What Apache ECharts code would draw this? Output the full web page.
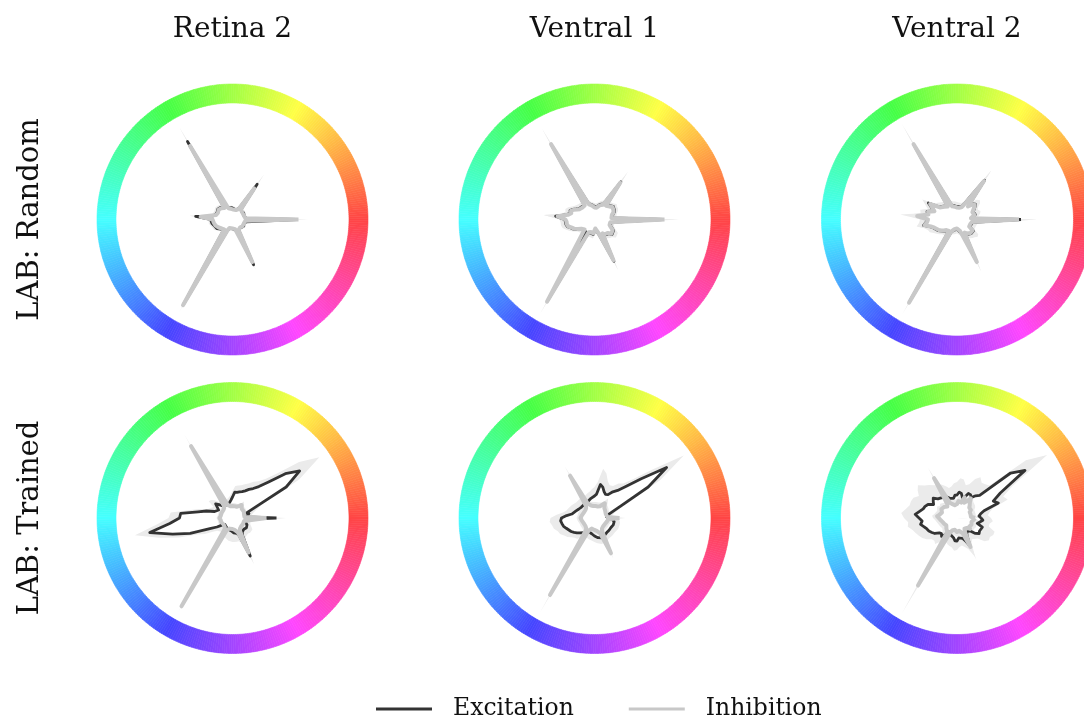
<!DOCTYPE html>
<html><head><meta charset="utf-8">
<script src="https://cdn.jsdelivr.net/npm/echarts@6/dist/echarts.min.js"></script>
<style>html,body{margin:0;padding:0;background:#fff}#c{width:1084px;height:719px}</style>
</head><body><div id="c"></div>
<script>
// angle grid (hue angle, degrees)
const angles = [0,5,10,15,20,25,30,35,40,45,50,55,60,65,70,75,80,85,90,95,100,105,110,115,
  120,125,130,135,140,145,150,155,160,165,170,175,180,185,190,195,200,205,210,215,220,225,230,235,
  240,245,250,255,260,265,270,275,280,285,290,295,300,305,310,315,320,325,330,335,340,345,350,355];
const columnTitles = ['Retina 2', 'Ventral 1', 'Ventral 2'];
const rowTitles = ['LAB: Random', 'LAB: Trained'];
const legendNames = ['Excitation', 'Inhibition'];

// ---- LAB: Random, Retina 2
const r2RandExc = [64,14,13,12,13,12,13,13,12,13,14,43, 13,11,10,11,10,11,11,12,11,12,12,14,
  90,15,16,17,17,18,18,17,16,18,20,37, 22,21,21,20,19,18,18,17,15,14,14,15,
  97,13,10,9,9,9,9,10,10,11,12,50, 13,12,11,12,12,12,13,13,12,13,14,14];
const r2RandExcSpread = [10,3,3,2,2,2,2,2,2,2,3,12, 3,2,2,2,2,2,2,2,2,2,2,3,
  17,3,3,3,3,3,3,3,3,3,3,6, 3,3,3,3,3,3,3,3,2,2,2,3,
  10,3,2,2,2,2,2,2,2,2,2,6, 2,2,2,2,2,2,2,2,2,2,2,2];
const r2RandInh = [66,13,12,12,12,12,12,12,12,12,13,38, 12,10,10,10,10,10,10,11,11,11,12,13,
  85,14,15,16,16,17,17,16,15,17,18,32, 20,19,19,19,18,17,16,16,14,13,13,14,
  99,12,9,9,8,8,9,9,10,10,11,47, 12,11,11,11,11,12,12,12,12,12,13,13];
const r2RandInhSpread = [10,3,2,2,2,2,2,2,2,2,3,17, 3,2,2,2,2,2,2,2,2,2,2,3,
  22,3,3,3,3,3,3,3,3,3,3,11, 3,3,3,3,3,3,3,3,2,2,2,3,
  9,3,2,2,2,2,2,2,2,2,2,8, 2,2,2,2,2,2,2,2,2,2,2,2];

// ---- LAB: Random, Ventral 1
const v1RandExc = [68,18,17,19,21,22,22,23,21,20,19,46, 18,19,16,14,13,13,13,14,15,16,17,18,
  85,18,17,18,18,19,21,24,26,25,28,39, 30,29,29,28,25,23,20,17,16,15,14,15,
  93,15,14,14,15,15,13,10,12,14,16,46, 17,19,20,20,23,23,22,19,17,16,17,18];
const v1RandExcSpread = [15,4,4,4,4,4,4,4,4,4,4,12, 4,4,4,4,3,3,3,3,3,3,4,4,
  19,4,4,4,4,5,5,5,5,5,5,12, 5,5,5,5,5,4,4,4,4,4,4,4,
  15,4,4,4,4,4,4,4,4,4,4,10, 4,4,4,5,5,5,5,4,4,4,4,4];
const v1RandInh = [70,17,16,18,20,21,21,22,20,19,18,45, 17,18,15,13,12,12,12,13,14,15,16,17,
  87,17,16,17,17,18,20,23,25,24,27,37, 29,28,28,27,24,22,19,16,15,14,13,14,
  95,14,13,13,14,14,12,9,11,13,15,45, 16,18,19,19,22,22,21,18,16,15,16,17];
const v1RandInhSpread = [15,4,4,4,4,4,4,4,4,4,4,13, 4,4,4,4,3,3,3,3,3,3,4,4,
  19,4,4,4,4,5,5,5,5,5,5,14, 5,5,5,5,5,4,4,4,4,4,4,4,
  15,4,4,4,4,4,4,4,4,4,4,11, 4,4,4,5,5,5,5,4,4,4,4,4];

// ---- LAB: Random, Ventral 2
const v2RandExc = [64,15,17,19,20,18,19,22,24,22,18,48, 26,17,14,13,13,13,13,14,14,15,15,16,
  84,17,18,19,20,22,33,28,25,31,30,37, 30,31,34,28,25,24,22,20,18,16,15,15,
  93,14,12,11,11,10,10,11,12,13,15,46, 16,18,19,20,21,20,15,14,15,16,16,15];
const v2RandExcSpread = [16,5,5,5,5,5,5,6,6,6,5,12, 6,5,5,4,4,4,4,4,4,4,5,5,
  24,5,5,5,6,6,7,7,6,7,7,14, 7,7,7,6,6,6,5,5,5,5,5,5,
  14,5,4,4,4,4,4,4,4,4,5,11, 5,5,5,5,6,6,5,5,5,5,5,5];
const v2RandInh = [62,14,16,18,19,17,18,21,23,21,17,47, 24,16,13,12,12,12,12,13,13,14,14,15,
  87,16,17,18,19,21,31,27,24,30,29,40, 29,30,33,27,24,23,21,19,17,15,14,14,
  96,13,11,10,10,9,9,10,11,12,14,47, 15,17,18,19,20,19,14,13,14,15,15,14];
const v2RandInhSpread = [18,5,5,5,5,5,5,6,6,6,5,13, 6,5,5,4,4,4,4,4,4,4,5,5,
  24,5,5,5,6,6,7,7,6,7,7,17, 7,7,7,6,6,6,5,5,5,5,5,5,
  14,5,4,4,4,4,4,4,4,4,5,11, 5,5,5,5,6,6,5,5,5,5,5,5];

// ---- LAB: Trained, Retina 2
const r2TrainExc = [44,14,15,17,15,24,62,82,69,51,41,36, 33,30,28,27,26,26,21,18,16,15,14,14,
  15,14,16,19,22,23,16,16,19,27,35,52, 53,63,84,62,45,25,18,12,10,10,10,11,
  12,12,12,12,13,13,14,15,16,16,18,42, 20,17,16,16,17,17,17,16,14,13,13,13];
const r2TrainExcSpread = [10,4,4,5,6,9,15,24,18,12,10,9, 9,8,8,7,7,6,6,5,5,5,5,5,
  5,5,5,6,6,6,6,6,7,8,9,10, 11,13,15,14,12,14,14,12,10,9,8,8,
  8,8,9,9,10,10,10,9,8,8,8,9, 7,6,6,6,6,6,6,5,5,5,5,5];
const r2TrainInh = [34,12,11,12,12,12,13,13,13,13,14,16, 14,13,12,12,12,12,12,12,12,13,14,16,
  83,15,13,12,12,12,12,12,12,12,12,13, 13,12,12,12,12,12,12,11,11,11,12,14,
  102,13,11,11,11,11,11,12,12,13,15,38, 15,13,12,12,12,12,12,12,12,12,12,13];
const r2TrainInhSpread = [8,3,3,3,3,3,3,3,3,3,3,4, 3,3,3,3,3,3,3,3,3,3,3,4,
  14,3,3,3,3,3,3,3,3,3,3,3, 3,3,3,3,3,3,3,3,3,3,3,4,
  8,3,3,3,3,3,3,3,3,3,4,9, 4,3,3,3,3,3,3,3,3,3,3,3];

// ---- LAB: Trained, Ventral 1
const v1TrainExc = [16,12,12,15,20,30,62,88,61,45,36,32, 27,26,28,32,34,24,22,21,20,19,18,17,
  17,17,17,17,17,18,18,19,20,21,23,28, 33,34,33,32,30,29,27,25,23,21,20,18,
  16,15,15,16,16,17,18,19,20,21,21,21, 20,19,19,19,19,19,19,20,20,20,20,19];
const v1TrainExcSpread = [6,5,5,6,7,9,14,21,14,10,9,10, 10,10,11,14,16,12,9,8,7,7,7,7,
  8,7,7,7,7,7,8,8,8,8,9,10, 11,11,10,10,9,9,8,8,7,7,7,6,
  6,6,6,6,6,6,6,6,6,6,6,7, 6,6,6,6,6,6,6,6,6,6,6,6];
const v1TrainInh = [25,13,12,12,12,12,12,13,13,14,15,18, 15,13,12,12,13,12,12,12,12,13,14,16,
  49,15,13,12,12,12,12,12,13,13,13,14, 14,13,13,12,12,12,12,12,12,12,13,15,
  89,14,12,11,11,11,12,12,13,14,16,39, 15,13,12,12,12,12,12,12,12,13,14,14];
const v1TrainInhSpread = [6,4,4,4,4,4,4,4,4,4,4,6, 4,4,4,4,4,4,4,4,4,4,4,4,
  11,4,4,4,4,4,4,4,4,4,4,4, 4,4,4,4,4,4,4,4,4,4,4,5,
  21,4,4,4,4,4,4,4,4,4,4,6, 4,4,4,4,4,4,4,4,4,4,4,4];

// ---- LAB: Trained, Ventral 2
const v2TrainExc = [24,22,24,28,44,40,50,83,70,32,29,25, 27,27,22,21,25,26,23,23,20,19,21,23,
  24,25,26,27,31,29,27,32,34,35,38,42, 38,35,37,34,32,31,29,27,23,22,24,20,
  16,17,18,19,20,23,23,20,19,21,24,31, 20,17,16,18,24,27,26,27,27,21,22,26];
const v2TrainExcSpread = [10,9,9,9,10,11,14,27,20,14,15,18, 20,16,14,13,14,14,13,12,12,12,13,14,
  14,15,17,19,20,19,17,16,15,14,14,14, 15,14,13,12,12,11,11,10,10,10,10,9,
  9,9,10,10,10,10,9,9,9,9,9,12, 9,9,10,11,12,12,12,13,13,12,11,10];
const v2TrainInh = [18,14,13,14,15,14,16,17,16,18,20,24, 19,17,22,16,15,17,14,13,13,14,15,17,
  46,17,15,16,17,16,18,17,16,17,18,20, 19,17,16,15,15,14,14,13,14,15,15,17,
  78,16,13,12,12,13,14,13,13,14,16,32, 16,13,12,14,17,15,14,16,17,15,16,17];
const v2TrainInhSpread = [5,5,5,5,5,5,5,5,5,5,5,6, 5,5,5,5,5,5,5,5,5,5,5,5,
  12,5,5,5,5,5,5,5,5,5,5,5, 5,5,5,5,5,5,5,5,5,5,5,6,
  32,5,5,5,5,5,5,5,5,5,5,14, 5,5,5,5,5,5,5,5,5,5,5,5];

const panels = [
  {exc: r2RandExc, excS: r2RandExcSpread, inh: r2RandInh, inhS: r2RandInhSpread},
  {exc: v1RandExc, excS: v1RandExcSpread, inh: v1RandInh, inhS: v1RandInhSpread},
  {exc: v2RandExc, excS: v2RandExcSpread, inh: v2RandInh, inhS: v2RandInhSpread},
  {exc: r2TrainExc, excS: r2TrainExcSpread, inh: r2TrainInh, inhS: r2TrainInhSpread},
  {exc: v1TrainExc, excS: v1TrainExcSpread, inh: v1TrainInh, inhS: v1TrainInhSpread},
  {exc: v2TrainExc, excS: v2TrainExcSpread, inh: v2TrainInh, inhS: v2TrainInhSpread}
];

// ---- layout / style
const colX = [232.5, 594.5, 957];
const rowY = [219.5, 518];
const innerR = 116.5, outerR = 135.5, RMAX = 116.5;
const EXC_COLOR = '#333333', INH_COLOR = '#c8c8c8', BAND_COLOR = '#ebebeb';
const FONT = 'DejaVu Serif';

function hsvHex(h, s, v) {
  const c = v * s, x = c * (1 - Math.abs((h / 60) % 2 - 1)), m = v - c;
  let r, g, b;
  if (h < 60) [r, g, b] = [c, x, 0]; else if (h < 120) [r, g, b] = [x, c, 0];
  else if (h < 180) [r, g, b] = [0, c, x]; else if (h < 240) [r, g, b] = [0, x, c];
  else if (h < 300) [r, g, b] = [x, 0, c]; else [r, g, b] = [c, 0, x];
  const f = t => Math.round((t + m) * 255).toString(16).padStart(2, '0');
  return '#' + f(r) + f(g) + f(b);
}
const ringData = [];
for (let h = 0; h < 360; h++) {
  const col = hsvHex(h, 0.73, 1);
  ringData.push({value: 1, itemStyle: {color: col, borderColor: col, borderWidth: 0.6}});
}

const polar = [], angleAxis = [], radiusAxis = [], series = [];
function closed(vals, add) {
  const d = angles.map((a, i) => [vals[i] + (add ? add[i] : 0), a]);
  d.push([d[0][0], 360]);
  return d;
}
panels.forEach((p, k) => {
  const cx = colX[k % 3], cy = rowY[Math.floor(k / 3)];
  polar.push({center: [cx, cy], radius: innerR});
  angleAxis.push({polarIndex: k, type: 'value', min: 0, max: 360, startAngle: 0, clockwise: false, show: false});
  radiusAxis.push({polarIndex: k, type: 'value', min: 0, max: RMAX, show: false});
  series.push({type: 'pie', center: [cx, cy], radius: [innerR, outerR], startAngle: -0.5, clockwise: false,
    silent: true, animation: false, label: {show: false}, labelLine: {show: false}, emphasis: {disabled: true},
    data: ringData});
  const area = (name, data, color) => ({type: 'line', name, coordinateSystem: 'polar', polarIndex: k, data,
    symbol: 'none', lineStyle: {width: 0, opacity: 0}, areaStyle: {color, opacity: 1}, silent: true,
    animation: false, clip: false});
  series.push(area('excBand', closed(p.exc, p.excS), BAND_COLOR));
  series.push(area('excFill', closed(p.exc), '#ffffff'));
  series.push(area('inhBand', closed(p.inh, p.inhS), BAND_COLOR));
  series.push(area('inhFill', closed(p.inh), '#ffffff'));
  series.push({type: 'line', name: legendNames[0], coordinateSystem: 'polar', polarIndex: k, data: closed(p.exc),
    symbol: 'none', color: EXC_COLOR, itemStyle: {color: EXC_COLOR},
    lineStyle: {color: EXC_COLOR, width: 2.8, join: 'round'}, silent: true, animation: false, clip: false});
  series.push({type: 'line', name: legendNames[1], coordinateSystem: 'polar', polarIndex: k, data: closed(p.inh),
    symbol: 'none', color: INH_COLOR, itemStyle: {color: INH_COLOR},
    lineStyle: {color: INH_COLOR, width: 4, join: 'round'}, silent: true, animation: false, clip: false});
});

const chart = echarts.init(document.getElementById('c'), null, {renderer: 'canvas'});
chart.setOption({
  backgroundColor: '#ffffff',
  animation: false,
  title: columnTitles.map((t, i) => ({text: t, left: colX[i], top: 16, padding: 0, textAlign: 'center',
    textStyle: {fontFamily: FONT, fontSize: 28, fontWeight: 'normal', color: '#111111'}})),
  legend: {data: legendNames, left: 376, top: 697, padding: 0, itemWidth: 56, itemHeight: 3, itemGap: 55, icon: 'rect',
    selectedMode: false, textStyle: {fontFamily: FONT, fontSize: 23.5, color: '#111111', padding: [0, 0, 0, 16]}},
  graphic: rowTitles.map((t, i) => ({type: 'text', x: 30, y: rowY[i], rotation: Math.PI / 2,
    style: {text: t, fontFamily: FONT, fontSize: 29, fill: '#111111', align: 'center', verticalAlign: 'middle'}})),
  polar, angleAxis, radiusAxis, series
});
</script></body></html>
